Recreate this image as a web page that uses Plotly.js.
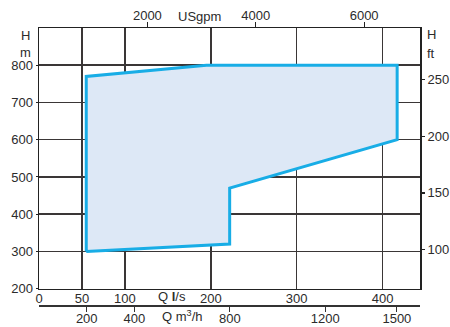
<!DOCTYPE html>
<html><head><meta charset="utf-8">
<script src="https://cdn.plot.ly/plotly-3.0.1.min.js"></script>
<style>html,body{margin:0;padding:0;background:#fff}#c{width:450px;height:327px}</style>
</head><body><div id="c"></div>
<script>
// Operating range polygon: flow Q (l/s) and head H (m)
const flowLs = [55, 55, 195, 417, 417, 222, 222, 55];
const headM  = [300, 770, 800, 800, 600, 470, 320, 300];

const lsTicks   = [0, 50, 100, 200, 300, 400];
const m3hTicks  = [200, 400, 800, 1200, 1500];
const gpmTicks  = [2000, 4000, 6000];
const mTicks    = [200, 300, 400, 500, 600, 700, 800];
const ftTicks   = [100, 150, 200, 250];

const xMax = 443.6, yMin = 200, yMax = 900;
const LS_TO_M3H = 3.6, LS_TO_GPM = 15.8503, M_TO_FT10 = 0.32808;

const font = {family: 'Liberation Sans, Arial, sans-serif', size: 13, color: '#2b2b2b'};
const grid = '#3a3636';

const trace = {
  x: flowLs, y: headM, type: 'scatter', mode: 'lines', fill: 'toself',
  fillcolor: '#dde8f6', line: {color: '#18ade6', width: 3}, hoverinfo: 'skip',
  xaxis: 'x', yaxis: 'y'
};
// invisible companions so the secondary unit axes are drawn
const ghostFt  = {x: flowLs, y: headM.map(h => h * M_TO_FT10), xaxis: 'x', yaxis: 'y2',
  type: 'scatter', mode: 'lines', line: {width: 0, color: 'rgba(0,0,0,0)'}, hoverinfo: 'skip'};
const ghostGpm = {x: flowLs.map(q => q * LS_TO_GPM), y: headM, xaxis: 'x2', yaxis: 'y',
  type: 'scatter', mode: 'lines', line: {width: 0, color: 'rgba(0,0,0,0)'}, hoverinfo: 'skip'};
const ghostM3h = {x: flowLs.map(q => q * LS_TO_M3H), y: headM, xaxis: 'x3', yaxis: 'y',
  type: 'scatter', mode: 'lines', line: {width: 0, color: 'rgba(0,0,0,0)'}, hoverinfo: 'skip'};

const layout = {
  width: 450, height: 327, showlegend: false,
  paper_bgcolor: '#fff', plot_bgcolor: '#fff', font: font,
  margin: {l: 38.5, r: 30, t: 28, b: 22, pad: 0},
  xaxis: {range: [0, xMax], tickvals: lsTicks, ticktext: lsTicks.map(String),
    showgrid: true, gridcolor: grid, gridwidth: 1.5, zeroline: false,
    showline: true, linecolor: '#222', linewidth: 1.5, mirror: true,
    ticks: '', tickfont: font, anchor: 'y', ticklabelstandoff: -3},
  xaxis2: {range: [0, xMax * LS_TO_GPM], tickvals: gpmTicks, ticktext: gpmTicks.map(String),
    overlaying: 'x', side: 'top', anchor: 'y', showgrid: false, zeroline: false,
    ticks: 'outside', ticklen: 5, tickcolor: '#222', tickwidth: 1.2, tickfont: font,
    ticklabelstandoff: -3},
  xaxis3: {range: [0, xMax * LS_TO_M3H], tickvals: m3hTicks, ticktext: m3hTicks.map(String),
    overlaying: 'x', side: 'bottom', anchor: 'free', position: 0, showgrid: false, zeroline: false,
    showline: true, linecolor: '#333', linewidth: 1.5,
    ticks: 'outside', ticklen: 5, tickcolor: '#333', tickwidth: 1.2, tickfont: font,
    ticklabelstandoff: -4},
  yaxis: {range: [yMin, yMax], domain: [0.0588, 1], tickvals: mTicks, ticktext: mTicks.map(String),
    showgrid: true, gridcolor: grid, gridwidth: 1.5, zeroline: false,
    showline: true, linecolor: '#222', linewidth: 1.5, mirror: true,
    ticks: 'outside', ticklen: 2, tickcolor: '#222', tickfont: font, anchor: 'x'},
  yaxis2: {range: [yMin * M_TO_FT10, yMax * M_TO_FT10], tickvals: ftTicks, ticktext: ftTicks.map(String),
    overlaying: 'y', side: 'right', anchor: 'x', showgrid: false, zeroline: false,
    ticks: 'outside', ticklen: 4, tickcolor: '#222', tickwidth: 1.2, tickfont: font},
  annotations: [
    {text: 'H', xref: 'paper', yref: 'paper', x: -0.035, y: 0.973, showarrow: false, xanchor: 'center', yanchor: 'middle', font: font},
    {text: 'm', xref: 'paper', yref: 'paper', x: -0.035, y: 0.91, showarrow: false, xanchor: 'center', yanchor: 'middle', font: font},
    {text: 'H', xref: 'paper', yref: 'paper', x: 1.03, y: 0.975, showarrow: false, xanchor: 'center', yanchor: 'middle', font: font},
    {text: 'ft', xref: 'paper', yref: 'paper', x: 1.03, y: 0.908, showarrow: false, xanchor: 'center', yanchor: 'middle', font: font},
    {text: 'Q <b>l</b>/s', xref: 'x', yref: 'paper', x: 155, y: 0.029, showarrow: false, xanchor: 'center', yanchor: 'middle', font: font},
    {text: 'Q m<sup>3</sup>/h', xref: 'x3', yref: 'paper', x: 598, y: -0.04, showarrow: false, xanchor: 'center', yanchor: 'middle', font: font},
    {text: 'USgpm', xref: 'x2', yref: 'paper', x: 2960, y: 1.04, showarrow: false, xanchor: 'center', yanchor: 'middle', font: font}
  ]
};

Plotly.newPlot('c', [trace, ghostFt, ghostGpm, ghostM3h], layout, {staticPlot: true, displayModeBar: false});
</script></body></html>
